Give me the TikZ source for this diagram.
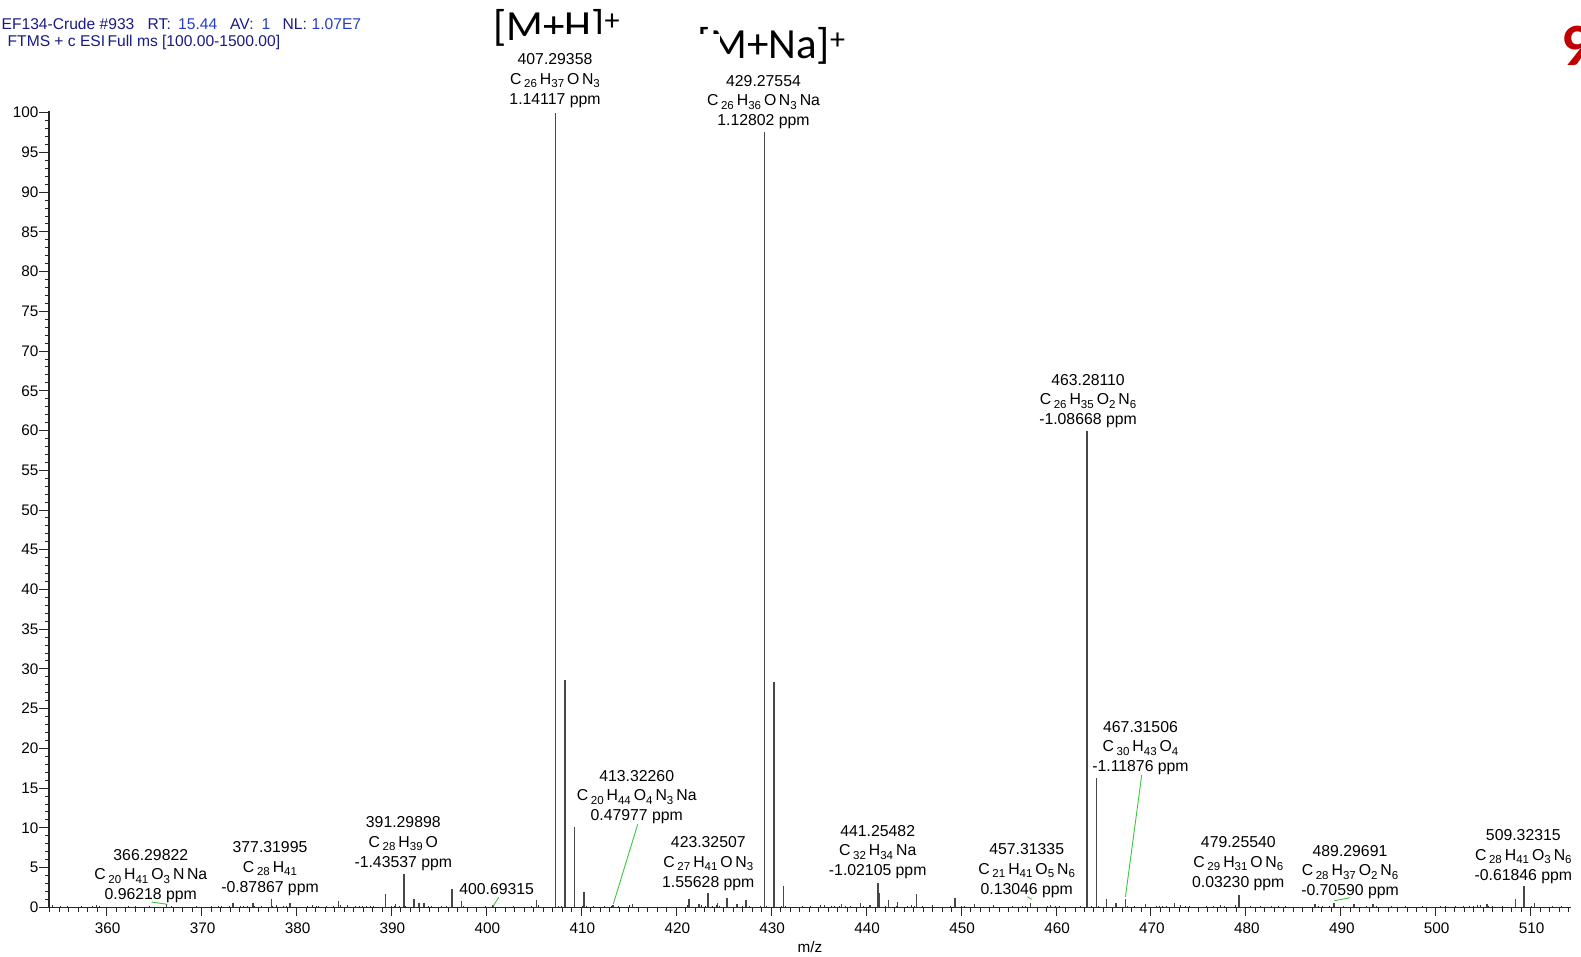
\documentclass[tikz,border=0pt]{standalone}
\usepackage{fontspec}
\setmainfont{Liberation Sans}
\newfontfamily\calfont{Carlito}
\definecolor{hdrnavy}{RGB}{25,25,135}
\definecolor{hdrblue}{RGB}{35,60,205}
\definecolor{leadgreen}{RGB}{60,200,60}
\definecolor{figred}{RGB}{192,0,0}
\newcommand\sbs[1]{\raisebox{-0.22em}{\fontsize{11.5}{11.5}\selectfont #1}}
\newcommand\gp{\hspace{3pt}}
\begin{document}
\begin{tikzpicture}[x=1pt,y=-1pt,
  axisline/.style={draw=black!85,line width=1.2pt},
  tickline/.style={draw=black!85,line width=1pt},
  peak/.style={draw=black!72,line width=1.5pt},
  noise/.style={draw=black!80,line width=0.9pt},
  leader/.style={draw=leadgreen,line width=0.9pt},
  lbl/.style={font=\fontsize{15.8}{19.7}\selectfont,align=center,inner sep=0pt},
  ticklbl/.style={font=\fontsize{15.3}{18}\selectfont,inner sep=0pt},
  hdr/.style={font=\fontsize{15.6}{18}\selectfont,inner sep=0pt,anchor=base west},
  big/.style={font=\calfont\fontsize{43}{50}\selectfont,inner sep=0pt,anchor=base west},
  cover/.style={fill=white,draw=none}]
\useasboundingbox (0,0) rectangle (1581,956);
\clip (0,0) rectangle (1581,956);

% header
\node[hdr,text=hdrnavy] (h1) at (1.5,29.3) {EF134-Crude \#933};
\node[hdr,text=hdrnavy] (h2) at (147.5,29.3) {RT:};
\node[hdr,text=hdrblue] (h3) at (178,29.3) {15.44};
\node[hdr,text=hdrnavy] (h4) at (230,29.3) {AV:};
\node[hdr,text=hdrblue] (h5) at (261.5,29.3) {1};
\node[hdr,text=hdrnavy] (h6) at (282.5,29.3) {NL:};
\node[hdr,text=hdrblue] (h7) at (311.5,29.3) {1.07E7};
\node[hdr,text=hdrnavy] (h8) at (7.5,46.7) {FTMS + c ESI\hspace{-2pt} Full ms [100.00-1500.00]};

% big ion labels and the boxes that hide part of them
\node[big] (mh) at (493,40) {[M+H]\textsuperscript{+}};
\node[big] (mna) at (697,58.5) {[M+Na]\textsuperscript{+}};
\fill[cover] (531,33.5) rectangle (613,54);
\fill[cover] (696,33.5) rectangle (720,72);

% red figure number, cut by the right edge
\node[font=\calfont\bfseries\fontsize{60}{60}\selectfont,text=figred,inner sep=0pt,anchor=base west] (fig) at (1561,65) {9};

% noise along the baseline
\pgfmathsetseed{4217}
\foreach \i in {0,...,420}{
  \pgfmathsetmacro\mm{354.2+\i*0.38+0.15*rnd}
  \pgfmathsetmacro\hh{0.5+3.0*rnd*rnd*rnd}
  \draw[noise] ({106.7+9.493*(\mm-360)},907.3) -- ++(0,-\hh);
}

% peaks (m/z , relative intensity)
\foreach \m/\v in {
 366.3/0.45, 373.3/0.6, 375.4/0.6, 377.35/1.1, 379.3/0.5, 384.4/0.75,
 389.35/1.7, 390.4/0.45, 391.30/4.15, 392.35/1.1, 392.9/0.5, 393.4/0.6,
 396.35/2.3, 397.35/0.75, 400.7/0.3, 405.3/0.95, 407.29/100, 408.30/28.6, 409.30/10.1,
 410.30/1.95, 413.32/0.3, 415.4/0.4, 421.35/1.1, 422.4/0.45, 423.33/1.8, 424.35/0.6,
 425.35/1.2, 426.4/0.4, 427.35/0.9, 429.28/97.6, 430.28/28.3, 431.28/2.7,
 437.4/0.4, 439.4/0.5, 440.4/0.3, 441.25/3.1, 441.4/1.8, 442.35/0.9, 443.3/0.7,
 445.3/1.7, 449.35/1.2, 451.4/0.4, 457.31/0.6, 459.4/0.3, 463.28/60.0,
 464.29/16.3, 465.3/1.0, 466.3/0.5, 467.32/1.0, 469.4/0.4, 472.5/0.5,
 479.26/1.6, 487.3/0.4, 489.30/0.6, 491.4/0.4, 493.4/0.4, 505.4/0.4,
 508.4/1.1, 509.32/2.7, 510.4/0.6}{
  \draw[peak] ({106.7+9.493*(\m-360)},907.3) -- ++(0,{-7.946*\v});
}

% axes
\draw[axisline] (49,907.3) -- (1571,907.3);
\draw[axisline] (49,907.3) -- (49,110.5);
\foreach \m in {354,...,514}{
  \draw[tickline] ({106.7+9.493*(\m-360)},907.3) -- ++(0,5);
}
\foreach \m in {360,370,...,510}{
  \draw[tickline] ({106.7+9.493*(\m-360)},907.3) -- ++(0,9);
  \node[ticklbl] (x\m) at ({107.7+9.493*(\m-360)},928) {\m};
}
\foreach \v in {0,...,100}{
  \draw[tickline] (49,{907.3-7.946*\v}) -- ++(-4,0);
}
\foreach \v in {0,5,...,100}{
  \draw[tickline] (49,{907.3-7.946*\v}) -- ++(-10,0);
  \node[ticklbl,anchor=east] (y\v) at (38.5,{907.3-7.946*\v}) {\v};
}
\node[ticklbl] (mz) at (810,947) {m/z};

% peak labels
\node[lbl] (l407) at (555,80.5) {407.29358\\C\,\sbs{26}\gp H\sbs{37}\gp O\,N\sbs{3}\\1.14117 ppm};
\node[lbl] (l429) at (763.5,102) {429.27554\\C\,\sbs{26}\gp H\sbs{36}\gp O\,N\sbs{3}\gp Na\\1.12802 ppm};
\node[lbl] (l463) at (1088,401) {463.28110\\C\,\sbs{26}\gp H\sbs{35}\gp O\sbs{2}\gp N\sbs{6}\\-1.08668 ppm};
\node[lbl] (l467) at (1140.5,748) {467.31506\\C\,\sbs{30}\gp H\sbs{43}\gp O\sbs{4}\\-1.11876 ppm};
\node[lbl] (l413) at (636.7,797) {413.32260\\C\,\sbs{20}\gp H\sbs{44}\gp O\sbs{4}\gp N\sbs{3}\gp Na\\0.47977 ppm};
\node[lbl] (l423) at (708.3,863.5) {423.32507\\C\,\sbs{27}\gp H\sbs{41}\gp O\,N\sbs{3}\\1.55628 ppm};
\node[lbl] (l391) at (403.3,843.5) {391.29898\\C\,\sbs{28}\gp H\sbs{39}\gp O\\-1.43537 ppm};
\node[lbl] (l377) at (270,868.5) {377.31995\\C\,\sbs{28}\gp H\sbs{41}\\-0.87867 ppm};
\node[lbl] (l366) at (150.8,876) {366.29822\\C\,\sbs{20}\gp H\sbs{41}\gp O\sbs{3}\gp N\,Na\\0.96218 ppm};
\node[lbl] (l400) at (496.7,889.3) {400.69315};
\node[lbl] (l441) at (877.7,852) {441.25482\\C\,\sbs{32}\gp H\sbs{34}\gp Na\\-1.02105 ppm};
\node[lbl] (l457) at (1026.7,870.5) {457.31335\\C\,\sbs{21}\gp H\sbs{41}\gp O\sbs{5}\gp N\sbs{6}\\0.13046 ppm};
\node[lbl] (l479) at (1238.3,863.5) {479.25540\\C\,\sbs{29}\gp H\sbs{31}\gp O\,N\sbs{6}\\0.03230 ppm};
\node[lbl] (l489) at (1350,872) {489.29691\\C\,\sbs{28}\gp H\sbs{37}\gp O\sbs{2}\gp N\sbs{6}\\-0.70590 ppm};
\node[lbl] (l509) at (1523.3,856.5) {509.32315\\C\,\sbs{28}\gp H\sbs{41}\gp O\sbs{3}\gp N\sbs{6}\\-0.61846 ppm};

% green leader lines from peak to label
\coordinate (p366) at (167.3,904.3);  \coordinate (e366) at (151.7,902);
\coordinate (p400) at (493.3,906);    \coordinate (e400) at (498.7,897.3);
\coordinate (p413) at (613.3,904);    \coordinate (e413) at (637.7,824.3);
\coordinate (p457) at (1031.7,899.3); \coordinate (e457) at (1027.3,896.7);
\coordinate (p467) at (1125.4,897);   \coordinate (e467) at (1141.7,775);
\coordinate (p489) at (1334.3,900.7); \coordinate (e489) at (1350,897.7);
\foreach \k in {366,400,413,457,467,489}{
  \draw[leader] (p\k) -- (e\k);
}
\end{tikzpicture}
\end{document}
